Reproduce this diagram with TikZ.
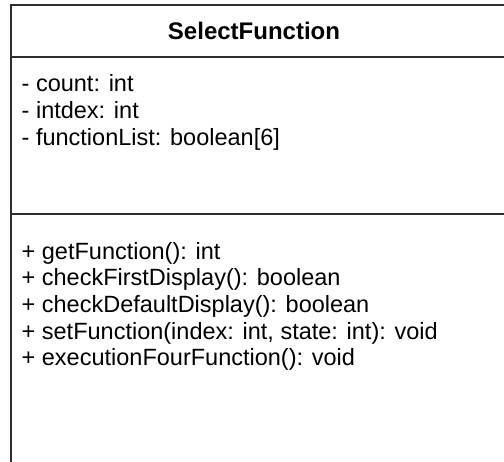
\documentclass[tikz,border=0pt]{standalone}
\usepackage{fontspec}
\setmainfont{Liberation Sans}
\begin{document}
\begin{tikzpicture}[x=1pt,y=-1pt,
  frame/.style={line width=2pt,draw=black!82},
  member/.style={anchor=base west,inner sep=0pt,font=\fontsize{23.5}{26}\selectfont},
  classname/.style={anchor=base,inner sep=0pt,font=\fontsize{24}{26}\selectfont\bfseries}]
  \useasboundingbox (0,0) rectangle (504,462);
  \clip (0,0) rectangle (504,462);
  % class box outline (continues past the right and bottom edges)
  \coordinate (topL) at (11,5);
  \coordinate (topR) at (512,5);
  \coordinate (botL) at (11,470);
  \coordinate (headL) at (11,57);
  \coordinate (headR) at (512,57);
  \coordinate (attrL) at (11,214);
  \coordinate (attrR) at (512,214);
  \draw[frame] (topR) -- (topL) -- (botL);
  \draw[frame] (headL) -- (headR);
  \draw[frame] (attrL) -- (attrR);
  % class name
  \node[classname] (title) at (254,39.3) {SelectFunction};
  % attributes
  \node[member] (aCount) at (21.5,92) {- count: int};
  \node[member] (aIndex) at (21.5,118.6) {- intdex: int};
  \node[member] (aList)  at (21.5,145.2) {- functionList: boolean[6]};
  % operations
  \node[member] (mGet)     at (21.5,259.3) {+ getFunction(): int};
  \node[member] (mFirst)   at (21.5,285.9) {+ checkFirstDisplay(): boolean};
  \node[member] (mDefault) at (21.5,312.5) {+ checkDefaultDisplay(): boolean};
  \node[member] (mSet)     at (21.5,339.1) {+ setFunction(index: int, state: int): void};
  \node[member] (mExec)    at (21.5,365.7) {+ executionFourFunction(): void};
\end{tikzpicture}
\end{document}
